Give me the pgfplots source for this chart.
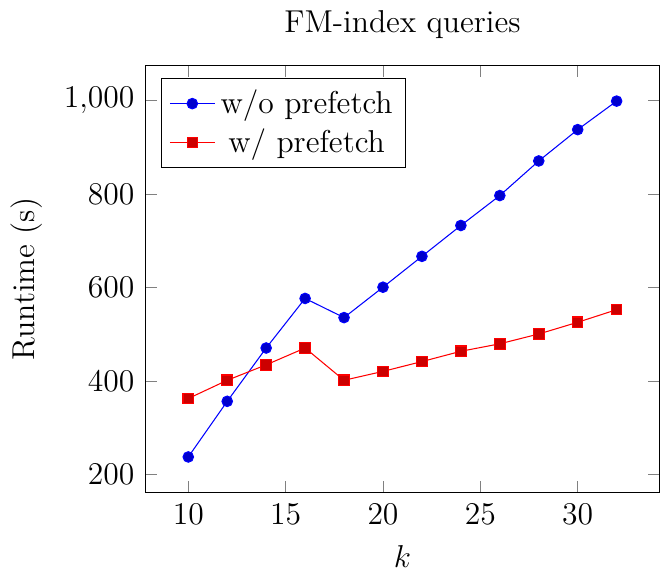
\documentclass[border=0pt,12pt]{standalone}
\usepackage{pgfplots}
\pgfplotsset{compat=1.18}
\begin{document}
\begin{tikzpicture}
\begin{axis}[
    title={FM-index queries},
    xlabel={$k$},
    ylabel={Runtime (s)},
    legend pos=north west,
]
\addplot coordinates {(10,238)(12,357)(14,471)(16,577)(18,536)(20,601)(22,667)(24,733)(26,797)(28,871)(30,938)(32,999)};
\addlegendentry{w/o prefetch}
\addplot coordinates {(10,363)(12,402)(14,435)(16,471)(18,402)(20,421)(22,442)(24,464)(26,480)(28,501)(30,526)(32,553)};
\addlegendentry{w/ prefetch}
\end{axis}
\end{tikzpicture}
\end{document}
